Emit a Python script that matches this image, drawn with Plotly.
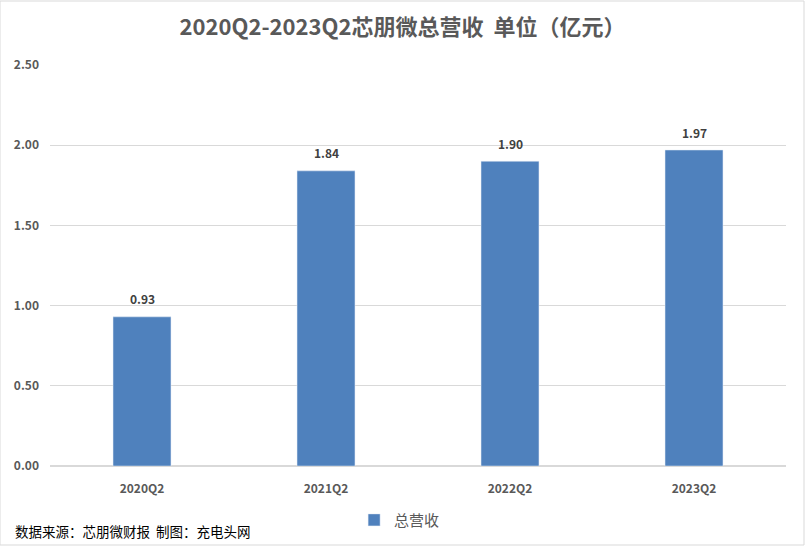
import plotly.graph_objects as go

categories = ["2020Q2", "2021Q2", "2022Q2", "2023Q2"]
revenue = [0.93, 1.84, 1.90, 1.97]
series_name = "总营收"
title_text = "2020Q2-2023Q2芯朋微总营收  单位（亿元）"
source_text = "数据来源：芯朋微财报  制图：充电头网"

font_fam = "Microsoft YaHei, Noto Sans CJK SC, sans-serif"
gray = "#595959"

fig = go.Figure()
fig.add_trace(go.Bar(
    x=categories, y=revenue, name=series_name,
    marker_color="#4F81BD", width=0.315,
))

annots = [dict(x=c, y=v, text=f"<b>{v:.2f}</b>", showarrow=False, yanchor="middle",
               yshift=18, xref="x", yref="y",
               font=dict(size=12, color="#404040", family=font_fam))
          for c, v in zip(categories, revenue)]
annots.append(dict(text=source_text, xref="paper", yref="paper", x=-37/736, y=-65/401,
                   xanchor="left", yanchor="middle", showarrow=False,
                   font=dict(size=13.5, color="#000000", family=font_fam)))

fig.update_layout(
    width=805, height=546,
    margin=dict(l=50, r=19, t=65, b=80, autoexpand=False),
    paper_bgcolor="white", plot_bgcolor="white",
    font=dict(family=font_fam, color=gray),
    title=dict(text=f"<b>{title_text}</b>", x=0.5, xanchor="center", y=0.95, yanchor="middle",
               font=dict(size=22, color=gray, family=font_fam)),
    xaxis=dict(showgrid=False, showline=False, ticks="", automargin=False,
               tickfont=dict(size=12, color=gray, weight="bold"),
               ticklabelstandoff=14),
    yaxis=dict(range=[0, 2.5], dtick=0.5, tickformat=".2f", showgrid=True, gridcolor="#D9D9D9",
               gridwidth=1, zeroline=True, zerolinecolor="#D9D9D9", automargin=False,
               tickfont=dict(size=12, color=gray, weight="bold"),
               ticklabelstandoff=10),
    showlegend=True,
    legend=dict(orientation="h", x=0.475, xanchor="center", y=-0.135, yanchor="middle",
                font=dict(size=15, color=gray), itemwidth=30),
    shapes=[dict(type="rect", xref="paper", yref="paper", x0=-50/736, x1=1+18/736,
                 y0=-79/401, y1=1+64/401, line=dict(color="#D9D9D9", width=1))],
    annotations=annots,
)

fig.write_html("out.html")
